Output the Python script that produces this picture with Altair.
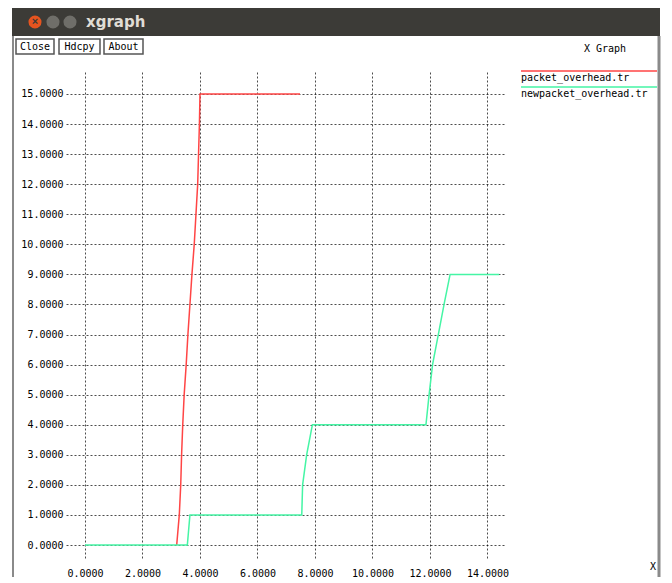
import altair as alt
import pandas as pd

# ---- data ----
series_names = ["packet_overhead.tr", "newpacket_overhead.tr"]
series_colors = ["#ff4545", "#45f5a5"]

red_x = [3.19, 3.28, 3.33, 3.36, 3.40, 3.45, 3.52, 3.58, 3.65, 3.72, 3.80, 3.86, 3.92, 3.95, 3.98, 4.00, 7.48]
red_y = [0, 1, 2, 3, 4, 5, 6, 7, 8, 9, 10, 11, 12, 13, 14, 15, 15]

green_x = [0.0, 3.56, 3.65, 7.54, 7.57, 7.71, 7.91, 11.86, 11.97, 12.09, 12.29, 12.49, 12.70, 14.41]
green_y = [0, 0, 1, 1, 2, 3, 4, 4, 5, 6, 7, 8, 9, 9]

x_ticks = [0, 2, 4, 6, 8, 10, 12, 14]
y_ticks = list(range(0, 16))

rows = []
for name, xs, ys in [(series_names[0], red_x, red_y), (series_names[1], green_x, green_y)]:
    for i, (xv, yv) in enumerate(zip(xs, ys)):
        rows.append({"series": name, "x": xv, "y": yv, "i": i})
df = pd.DataFrame(rows)

MONO = "DejaVu Sans Mono"
W, H = 439, 486

color_scale = alt.Scale(domain=series_names, range=series_colors)
xs = alt.Scale(domain=[-0.661, 14.61], nice=False, zero=False)
ys = alt.Scale(domain=[-0.432, 15.73], nice=False, zero=False)

lines = alt.Chart(df).mark_line(strokeWidth=1.5, clip=False).encode(
    x=alt.X("x:Q", scale=xs,
            axis=alt.Axis(values=x_ticks, format=".4f", title=None, grid=True,
                          gridDash=[2, 2], gridColor="#000", gridOpacity=0.7,
                          domain=False, ticks=False, labelFont=MONO, labelFontSize=10,
                          labelColor="#000", labelPadding=10)),
    y=alt.Y("y:Q", scale=ys,
            axis=alt.Axis(values=y_ticks, format=".4f", title=None, grid=True,
                          gridDash=[2, 2], gridColor="#000", gridOpacity=0.7,
                          domain=False, ticks=False, labelFont=MONO, labelFontSize=10,
                          labelColor="#000", labelPadding=3)),
    color=alt.Color("series:N", scale=color_scale, legend=None),
    order=alt.Order("i:Q"),
    detail="series:N",
)

one = pd.DataFrame({"k": [0]})
base = alt.Chart(one)

# window decoration (pixel positions relative to the plot area)
deco = []
deco.append(base.mark_rect(color="#3c3b37").encode(
    x=alt.value(-54), x2=alt.value(594), y=alt.value(-64), y2=alt.value(-36)))
deco.append(base.mark_rule(color="#8a8a8a", strokeWidth=2).encode(
    x=alt.value(-53), y=alt.value(-36), y2=alt.value(505)))
deco.append(base.mark_rule(color="#8a8a8a", strokeWidth=3).encode(
    x=alt.value(593), y=alt.value(-36), y2=alt.value(505)))
for cx, col in [(-31, "#e6541f"), (-13, "#6f6e69"), (4, "#6f6e69")]:
    deco.append(base.mark_point(filled=True, color=col, size=170, opacity=1).encode(
        x=alt.value(cx), y=alt.value(-50)))
deco.append(base.mark_text(text="×", color="#3c3b37", fontSize=11, fontWeight="bold").encode(
    x=alt.value(-31), y=alt.value(-50)))
deco.append(base.mark_text(text="xgraph", color="#e0ddd5", fontSize=15, fontWeight="bold",
                           align="left", font="DejaVu Sans").encode(
    x=alt.value(20), y=alt.value(-50)))
for x1, x2, label in [(-50, -12, "Close"), (-7, 34, "Hdcpy"), (38, 77, "About")]:
    deco.append(base.mark_rect(fill="white", stroke="#555", strokeWidth=1.5).encode(
        x=alt.value(x1), x2=alt.value(x2), y=alt.value(-33), y2=alt.value(-18)))
    deco.append(base.mark_text(text=label, font=MONO, fontSize=10, color="#000").encode(
        x=alt.value((x1 + x2) / 2), y=alt.value(-25)))
deco.append(base.mark_text(text="X Graph", font=MONO, fontSize=10, color="#000").encode(
    x=alt.value(539), y=alt.value(-23)))
deco.append(base.mark_text(text="X", font=MONO, fontSize=10, color="#000").encode(
    x=alt.value(587), y=alt.value(495)))

# legend: a line above each label, as xgraph draws it
legend_layers = []
for k, (name, col) in enumerate(zip(series_names, series_colors)):
    yline = -1 + 16 * k
    legend_layers.append(base.mark_rule(color=col, strokeWidth=1.5).encode(
        x=alt.value(455), x2=alt.value(591), y=alt.value(yline)))
    legend_layers.append(base.mark_text(text=name, font=MONO, fontSize=10, color="#000",
                                        align="left").encode(
        x=alt.value(455), y=alt.value(yline + 7)))

chart = alt.layer(*deco, lines, *legend_layers).properties(
    width=W, height=H,
    padding={"left": 4, "top": 0, "right": 0, "bottom": 0},
    background="white",
).configure_view(strokeWidth=0)

chart.save("out.html", embed_options={"renderer": "svg", "actions": False})
